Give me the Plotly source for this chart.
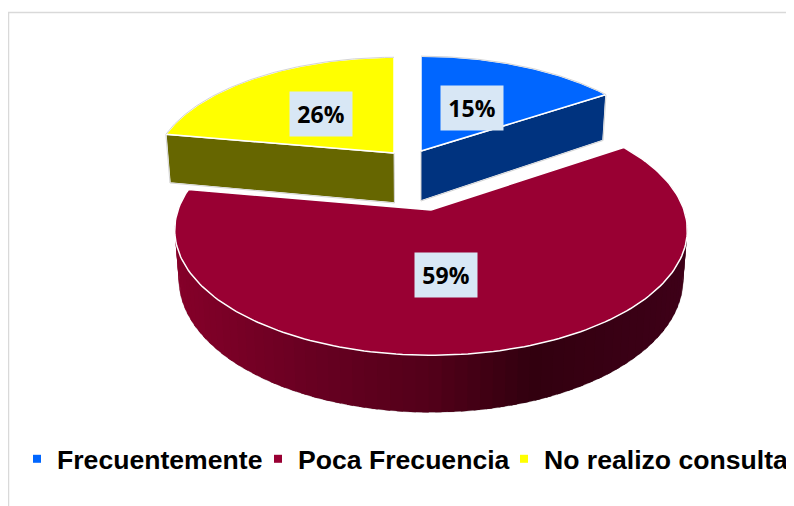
import numpy as np
import plotly.graph_objects as go

# datos
categorias = ["Frecuentemente", "Poca Frecuencia", "No realizo consulta"]
valores = [15, 59, 26]

# estilo de cada porción (ápice en píxeles, escala, colores)
colores = ["#0066ff", "#990033", "#ffff00"]
paredes = ["#00337f", None, "#666600"]
apices = [(421, 151), (431, 210), (394, 153)]
escalas = [(243, 110), (253, 122), (238, 111)]
etiquetas_xy = [(472, 108), (446, 275), (321, 114)]
# la ultima va pegada al borde derecho para que no empuje el margen
leyenda_pos = [(9, "left"), (250, "left"), (786, "right")]

K = 0.16          # perspectiva
PROF = 50         # grosor del pastel
PROF_ROJA = 48
BASE = 0.984      # la base se ve algo mas estrecha
BORDE = "#d4d4d4"


def vista(theta):
    # corrige el angulo por la rotacion de la vista 3D
    return theta + 12 * (1 - np.cos(np.radians(theta))) ** 2


def proyecta(theta, ax, ay, f, g):
    t = np.radians(theta)
    X, Y = np.sin(t), np.cos(t)
    w = 1 + K * Y
    return ax + f * X / w, ay - g * Y / w, w


def abajo(x, y, w, xc, prof=PROF):
    return xc + BASE * (x - xc), y + prof / w


def mezcla(x):
    # sombreado de la pared roja segun x
    px = [175, 300, 431, 530, 688]
    r = np.interp(x, px, [133, 106, 82, 50, 62])
    b = np.interp(x, px, [41, 34, 25, 15, 24])
    return f"rgb({r:.0f},0,{b:.0f})"


fig = go.Figure()


def poligono(xs, ys, relleno, linea="white", ancho=1.5):
    fig.add_trace(go.Scatter(
        x=list(xs), y=list(ys), mode="lines", fill="toself", fillcolor=relleno,
        line=dict(color=linea, width=ancho), hoverinfo="skip", showlegend=False,
    ))


def contorno(xs, ys):
    fig.add_trace(go.Scatter(
        x=list(xs), y=list(ys), mode="lines", line=dict(color=BORDE, width=1),
        hoverinfo="skip", showlegend=False,
    ))


cortes = np.cumsum([0] + valores) / sum(valores) * 360
# primero la roja, que queda detras de las otras dos
for i in [1, 2, 0]:
    ax, ay = apices[i]
    f, g = escalas[i]
    th = np.linspace(vista(cortes[i]), vista(cortes[i + 1]), 181)
    x, y, w = proyecta(th, ax, ay, f, g)

    if paredes[i] is None:
        xb, yb = abajo(x, y, w, ax, PROF_ROJA)
        contorno(xb, yb)
        # franjas solapadas para que no se vean costuras
        for j in range(0, len(th) - 3, 2):
            c = mezcla(x[j + 1])
            poligono([x[j], x[j + 3], xb[j + 3], xb[j]], [y[j], y[j + 3], yb[j + 3], yb[j]], c, c, 0)
    else:
        # pared del corte visible
        px, py, pw = (x[0], y[0], w[0]) if i == 2 else (x[-1], y[-1], w[-1])
        a0 = abajo(ax, ay, 1.0, 420)
        p0 = abajo(px, py, pw, 420)
        poligono([ax, px, p0[0], a0[0]], [ay, py, p0[1], a0[1]], paredes[i])
        contorno([px, p0[0], a0[0], ax], [py, p0[1], a0[1], ay])

    poligono(np.r_[ax, x, ax], np.r_[ay, y, ay], colores[i])
    if paredes[i] is not None:
        contorno(x, y)

# leyenda: una por entrada para poder colocarlas a distinta separacion
leyendas = {}
for n, (nombre, color, (lx, ancla)) in enumerate(zip(categorias, colores, leyenda_pos)):
    clave = "legend" if n == 0 else f"legend{n + 1}"
    fig.add_trace(go.Scatter(
        x=[None], y=[None], mode="markers", name=nombre, legend=clave,
        marker=dict(symbol="square", size=8, color=color),
    ))
    leyendas[clave] = dict(
        orientation="h", x=lx / 786, y=1 - 451 / 498, xanchor=ancla, yanchor="middle",
        font=dict(family="Liberation Sans", size=26.6, color="black", weight="bold"),
        bgcolor="rgba(0,0,0,0)",
    )

for v, (lx, ly) in zip(valores, etiquetas_xy):
    fig.add_annotation(
        x=lx, y=ly, text=f"<b>{v}%</b>", showarrow=False, width=60, height=42,
        bgcolor="#d8e7f5", font=dict(family="Open Sans", size=23, color="black"),
        align="center", valign="middle",
    )

# la pagina deja 8 px de margen: el eje empieza en 8 para seguir en pixeles de la imagen
fig.update_layout(
    width=786, height=498, margin=dict(l=0, r=0, t=0, b=0),
    paper_bgcolor="white", plot_bgcolor="white", showlegend=True,
    xaxis=dict(range=[8, 794], visible=False, fixedrange=True),
    yaxis=dict(range=[506, 8], visible=False, fixedrange=True),
    shapes=[dict(type="rect", xref="x", yref="y", x0=8.5, y0=12.5, x1=810, y1=520,
                 line=dict(color="#d9d9d9", width=1.5), layer="below")],
    **leyendas,
)

fig.write_html("out.html")
